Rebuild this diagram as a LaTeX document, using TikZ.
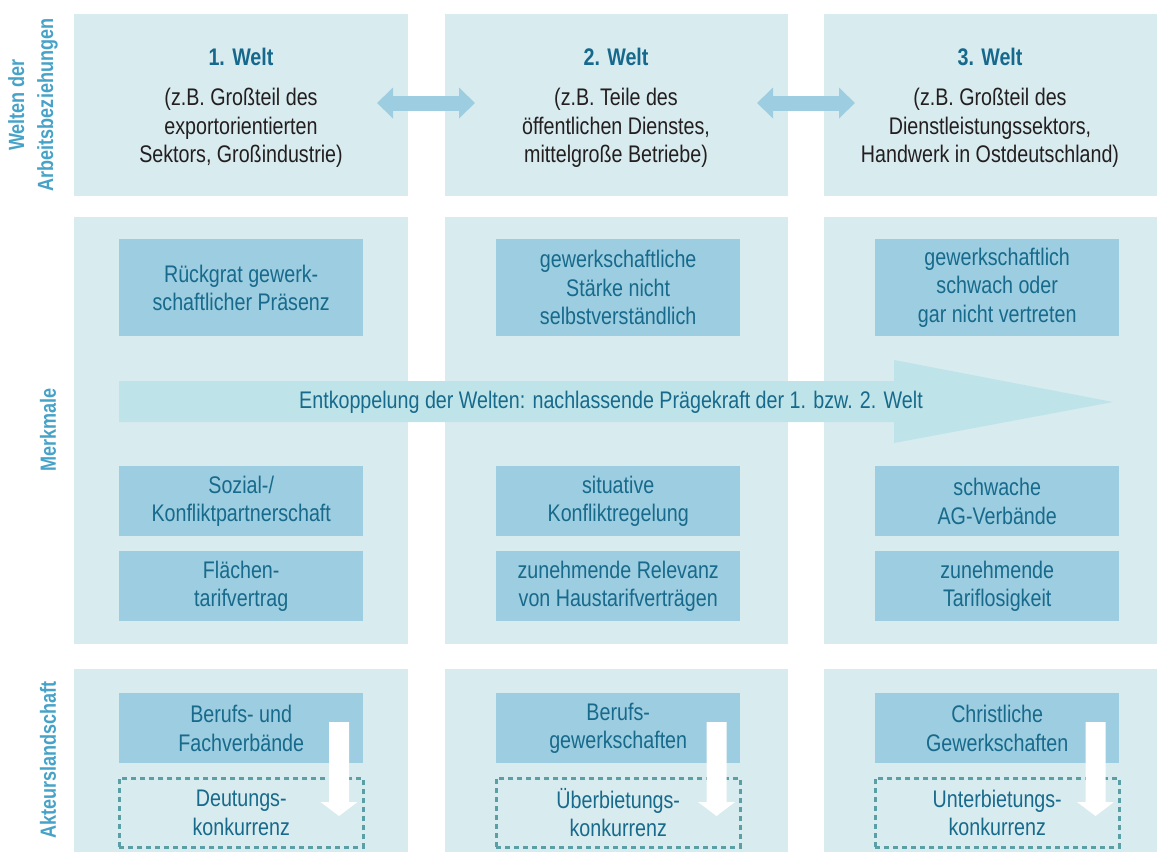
\documentclass[tikz,border=0pt]{standalone}
\usepackage{fontspec}
\setmainfont{Liberation Sans}[FakeStretch=0.82]
\usetikzlibrary{arrows.meta}
\definecolor{bgc}{HTML}{D8EBEF}
\definecolor{innerc}{HTML}{9DCDE0}
\definecolor{bigc}{HTML}{BEE4EA}
\definecolor{tealc}{HTML}{176A8B}
\definecolor{headc}{HTML}{16698C}
\definecolor{sidec}{HTML}{47A2C8}
\definecolor{bodyc}{HTML}{231F20}
\definecolor{dashc}{HTML}{5A9EA6}
\begin{document}
\begin{tikzpicture}[x=1pt,y=-1pt,
  bg/.style={fill=bgc, inner sep=0, anchor=north west},
  txt/.style={font=\fontsize{24}{28.5}\selectfont, align=center, inner sep=0},
  ibox/.style={fill=innerc, inner sep=0, anchor=north west, minimum width=244, text=tealc, font=\fontsize{24}{28.5}\selectfont, align=center},
  dbox/.style={draw=dashc, line width=2.5, dash pattern=on 5 off 4, inner sep=0, anchor=north west, minimum width=244, minimum height=69, text=tealc, font=\fontsize{24}{28.5}\selectfont, align=center},
  head/.style={txt, text=headc, font=\fontsize{24}{28}\selectfont\bfseries},
  body/.style={txt, text=bodyc},
  side/.style={txt, text=sidec, rotate=90, font=\fontsize{22}{29}\selectfont\bfseries},
  dbl/.style={draw=innerc, line width=15, {Triangle[length=16,width=30]}-{Triangle[length=16,width=30]}},
  warrow/.style={fill=white}
]
\useasboundingbox (0,0) rectangle (1157,852);
% backgrounds
\node[bg, minimum width=334, minimum height=182] (w1) at (74,14) {};
\node[bg, minimum width=343, minimum height=182] (w2) at (445,14) {};
\node[bg, minimum width=333, minimum height=182] (w3) at (824,14) {};
\node[bg, minimum width=334, minimum height=427] (m1) at (74,217) {};
\node[bg, minimum width=343, minimum height=427] (m2) at (445,217) {};
\node[bg, minimum width=333, minimum height=427] (m3) at (824,217) {};
\node[bg, minimum width=334, minimum height=183] (a1) at (74,669) {};
\node[bg, minimum width=343, minimum height=183] (a2) at (445,669) {};
\node[bg, minimum width=333, minimum height=183] (a3) at (824,669) {};
% side labels
\node[side] (s1) at (33,105) {Welten der\\Arbeitsbeziehungen};
\node[side] (s2) at (48,430) {Merkmale};
\node[side] (s3) at (48,760) {Akteurslandschaft};
% row 1
\node[head] (h1) at (241,57) {1. Welt};
\node[head] (h2) at (616,57) {2. Welt};
\node[head] (h3) at (990,57) {3. Welt};
\node[body] (b1) at (241,128) {(z.B. Großteil des\\exportorientierten\\Sektors, Großindustrie)};
\node[body] (b2) at (616,128) {(z.B. Teile des\\öffentlichen Dienstes,\\mittelgroße Betriebe)};
\node[body] (b3) at (990,128) {(z.B. Großteil des\\Dienstleistungssektors,\\Handwerk in Ostdeutschland)};
\coordinate (d1a) at (377,103); \coordinate (d1b) at (475,103);
\coordinate (d2a) at (757,103); \coordinate (d2b) at (855,103);
\draw[dbl] (d1a) -- (d1b);
\draw[dbl] (d2a) -- (d2b);
% row 2
\node[ibox, minimum height=97] (r1) at (119,239) {Rückgrat gewerk-\\schaftlicher Präsenz};
\node[ibox, minimum height=97] (r2) at (496,239) {gewerkschaftliche\\Stärke nicht\\selbstverständlich};
\node[ibox, minimum height=97] (r3) at (875,239) {gewerkschaftlich\\schwach oder\\gar nicht vertreten};
\fill[bigc] (119,381) -- (894,381) -- (894,360) -- (1113,402) -- (894,443) -- (894,422) -- (119,422) -- cycle;
\node[txt, text=tealc] (big) at (611,402) {Entkoppelung der Welten: nachlassende Prägekraft der 1. bzw. 2. Welt};
\node[ibox, minimum height=70] (k1) at (119,466) {Sozial-/\\Konfliktpartnerschaft};
\node[ibox, minimum height=70] (k2) at (496,466) {situative\\Konfliktregelung};
\node[ibox, minimum height=70] (k3) at (875,466) {schwache\\AG-Verbände};
\node[ibox, minimum height=70] (t1) at (119,551) {Flächen-\\tarifvertrag};
\node[ibox, minimum height=70] (t2) at (496,551) {zunehmende Relevanz\\von Haustarifverträgen};
\node[ibox, minimum height=70] (t3) at (875,551) {zunehmende\\Tariflosigkeit};
% row 3
\node[ibox, minimum height=70] (g1) at (119,693) {Berufs- und\\Fachverbände};
\node[ibox, minimum height=70] (g2) at (496,693) {Berufs-\\gewerkschaften};
\node[ibox, minimum height=70] (g3) at (875,693) {Christliche\\Gewerkschaften};
\node[dbox] (c1) at (118,777) {Deutungs-\\konkurrenz};
\node[dbox] (c2) at (495,777) {Überbietungs-\\konkurrenz};
\node[dbox] (c3) at (874,777) {Unterbietungs-\\konkurrenz};
% white arrows
\foreach \xx in {339,716.5,1095.5} {
  \fill[warrow] (\xx-10,722) -- (\xx+10,722) -- (\xx+10,802) -- (\xx+18.5,802) -- (\xx,816) -- (\xx-18.5,802) -- (\xx-10,802) -- cycle;
}
\end{tikzpicture}
\end{document}
